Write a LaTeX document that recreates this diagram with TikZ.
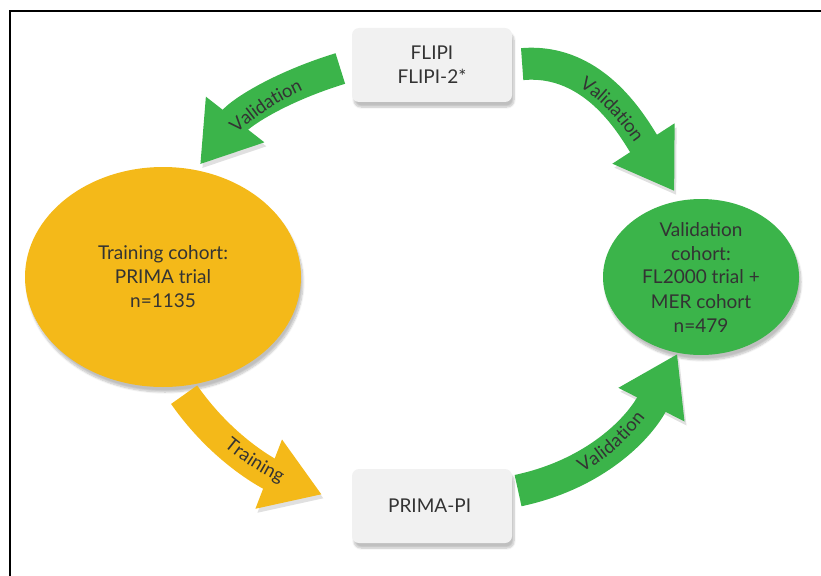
\documentclass[tikz,border=0pt]{standalone}
\usepackage{fontspec}
\setmainfont{Lato}
\newfontfamily\labelfont{Lato}
\usetikzlibrary{shapes.geometric,arrows.meta,decorations.text,shadows.blur}

\definecolor{ink}{HTML}{333333}
\definecolor{gold}{HTML}{F4B919}
\definecolor{leaf}{HTML}{3BB44A}
\definecolor{card}{HTML}{F1F1F1}

\newcommand\cardfont{\fontsize{19}{24}\selectfont}
\newcommand\flowfont{\labelfont\fontsize{18.5}{20}\selectfont\color{ink}}

\tikzset{
	softshadow/.style={blur shadow={shadow xshift=2pt, shadow yshift=-5pt, shadow blur steps=8, shadow opacity=25}},
	cardbox/.style={rectangle, rounded corners=7pt, fill=card, minimum width=160pt, minimum height=74pt, align=center, text=ink, font=\cardfont, softshadow},
	cohort/.style={ellipse, inner sep=0pt, align=center, text=ink, font=\cardfont, softshadow},
	flow/.style={line width=32pt, -{Triangle[width=70pt,length=57pt]}, preaction={draw=black, opacity=0.12, transform canvas={xshift=2pt, yshift=-4pt}}},
	flowtext/.style={decorate, decoration={text along path, text align=center, raise=-6.5pt, text={|\flowfont|#1}}}
}

\begin{document}
\begin{tikzpicture}[x=1pt, y=1pt]
			\useasboundingbox (0,0) rectangle (821,-575);
			\draw[line width=2pt] (10,-600) -- (10,-11) -- (840,-11);

			\node[cardbox] (flipi) at ( 432, -65 ) { FLIPI\\FLIPI-2* };
			\node[cardbox] (prima) at ( 432, -506 ) { PRIMA-PI };
			\node[cohort, fill=gold, minimum width=276pt, minimum height=220pt] (train) at ( 163, -277 ) { Training cohort:\\PRIMA trial\\n=1135 };
			\node[cohort, fill=leaf, minimum width=196pt, minimum height=156pt] (valid) at ( 701, -277 ) { Validation\\cohort:\\FL2000 trial +\\MER cohort\\n=479 };

			\draw[flow, leaf, shorten <=12pt, shorten >=7pt] (flipi.west) to[out=197, in=52] (train.73);
			\draw[flow, leaf, shorten <=10pt, shorten >=11pt] (flipi.east) to[out=5, in=123] (valid.105);
			\draw[flow, gold, shorten <=10pt, shorten >=32pt] (train.-82) to[out=-55, in=159] (prima.west);
			\draw[flow, leaf, shorten <=6pt, shorten >=1pt] (prima.10) to[out=12, in=243] (valid.-107);

			\path[flowtext=Validation] (train.73) to[out=52, in=197] (flipi.west);
			\path[flowtext=Validation] (flipi.east) to[out=5, in=123] (valid.105);
			\path[flowtext=Training] (train.-82) to[out=-55, in=159] (prima.west);
			\path[flowtext=Validation] (prima.10) to[out=12, in=243] (valid.-107);
		\end{tikzpicture}
\end{document}
